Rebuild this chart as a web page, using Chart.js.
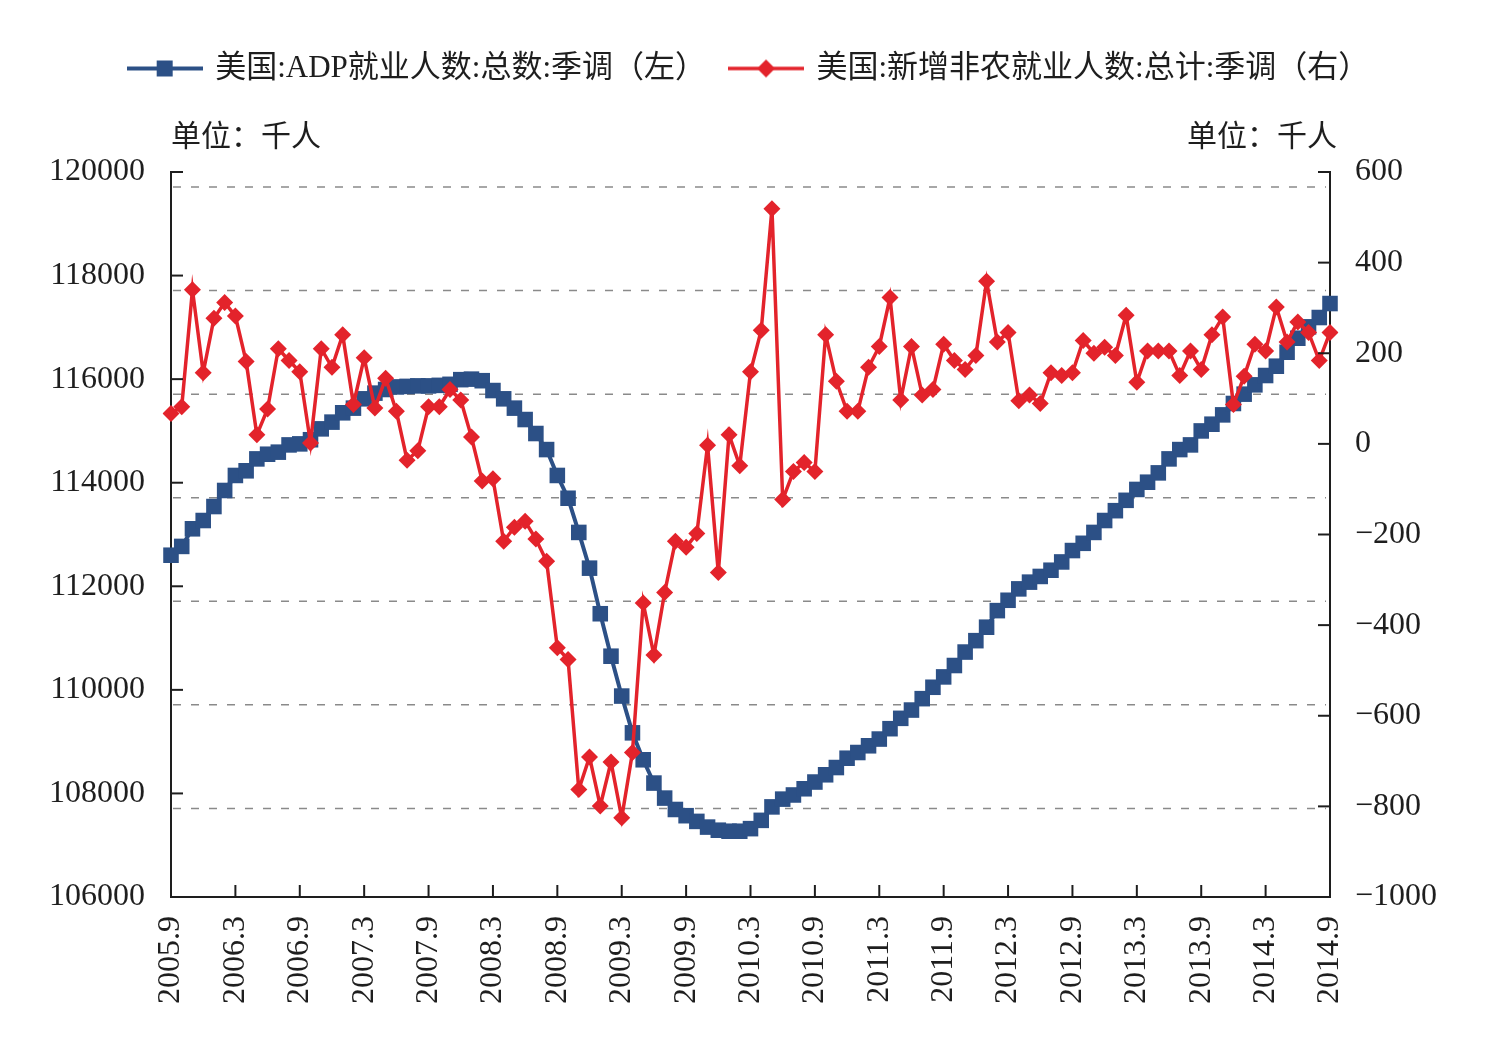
<!DOCTYPE html>
<html>
<head>
<meta charset="utf-8">
<title>美国ADP就业人数与新增非农就业人数</title>
<script src="https://cdn.jsdelivr.net/npm/chart.js@4.4.1/dist/chart.umd.min.js"></script>
<style>
html, body { margin: 0; padding: 0; background: #fff; }
canvas { display: block; }
</style>
</head>
<body>
<canvas id="chart" width="1499" height="1048"></canvas>
<script>
// months 2005.9 .. 2014.9 (109 points)
let months = [];
for (let i = 0; i < 109; i++) {
  let t = 2005 * 12 + 8 + i;
  months.push(Math.floor(t / 12) + "." + ((t % 12) + 1));
}

// 美国:ADP就业人数:总数:季调 (left axis, 千人)
let adp = [
  112600, 112770, 113110, 113270, 113540, 113850, 114140, 114230, 114460, 114550,
  114590, 114730, 114750, 114830, 115040, 115170, 115350, 115440, 115620, 115730,
  115800, 115850, 115860, 115870, 115870, 115880, 115900, 115990, 116000, 115970,
  115780, 115620, 115440, 115220, 114950, 114640, 114140, 113700, 113040, 112350,
  111470, 110650, 109880, 109170, 108650, 108200, 107910, 107690, 107570, 107460,
  107350, 107290, 107270, 107270, 107320, 107480, 107740, 107890, 107970, 108090,
  108220, 108360, 108500, 108680, 108790, 108920, 109050, 109250, 109450, 109610,
  109830, 110050, 110250, 110470, 110730, 110950, 111210, 111530, 111730, 111950,
  112080, 112190, 112310, 112470, 112690, 112830, 113040, 113270, 113460, 113660,
  113870, 114010, 114190, 114460, 114640, 114730, 115000, 115130, 115310, 115530,
  115710, 115890, 116070, 116250, 116520, 116790, 117010, 117190, 117460
];

// 美国:新增非农就业人数:总计:季调 (right axis, 千人)
let nfp = [
  67, 82, 340, 157, 277, 312, 282, 182, 20, 77,
  210, 184, 159, 2, 210, 169, 241, 87, 190, 79,
  145, 72, -36, -15, 82, 82, 120, 97, 15, -82,
  -77, -215, -184, -171, -210, -259, -450, -476, -763, -691,
  -799, -702, -825, -681, -351, -466, -328, -215, -228, -198,
  -3, -284, 20, -48, 159, 251, 519, -123, -61, -41,
  -61, 241, 138, 72, 72, 169, 215, 323, 97, 215,
  108, 120, 220, 184, 164, 195, 359, 225, 246, 95,
  108, 89, 157, 151, 157, 228, 200, 213, 195, 284,
  136, 205, 205, 205, 151, 205, 164, 241, 280, 87,
  149, 220, 205, 302, 225, 269, 246, 184, 246
];

let seriesNames = ["美国:ADP就业人数:总数:季调（左）", "美国:新增非农就业人数:总计:季调（右）"];
let unitText = "单位：千人";

let blue = "#2c5086";
let red = "#e3232b";
let ink = "#1e1e1e";
let numFont = "'Liberation Serif', 'Noto Sans CJK SC', serif";
let cjkFont = "'Liberation Serif', 'Noto Sans CJK SC', sans-serif";

let gridShift = 15; // dashed grid sits a little below the left ticks in the original
let titlePad = { top: 26, bottom: 16 };

// legend icons: line with marker
function makeIcon(color, lw, shape) {
  let c = document.createElement("canvas");
  c.width = 76;
  c.height = 24;
  let g = c.getContext("2d");
  g.strokeStyle = color;
  g.fillStyle = color;
  g.lineWidth = lw;
  g.beginPath();
  g.moveTo(0, 12);
  g.lineTo(76, 12);
  g.stroke();
  g.beginPath();
  if (shape === "rect") {
    g.rect(38 - 8, 12 - 8, 16, 16);
  } else {
    g.moveTo(38, 12 - 9);
    g.lineTo(38 + 9, 12);
    g.lineTo(38, 12 + 9);
    g.lineTo(38 - 9, 12);
    g.closePath();
  }
  g.fill();
  return c;
}
let legendIcons = [makeIcon(blue, 4, "rect"), makeIcon(red, 3.5, "diamond")];

const axisMarks = {
  id: "axisMarks",
  beforeDatasetsDraw(chart) {
    const { ctx, chartArea: a, scales } = chart;
    ctx.save();
    ctx.strokeStyle = "#8a8a8a";
    ctx.lineWidth = 1.5;
    ctx.setLineDash([8, 10]);
    scales.y.ticks.forEach(t => {
      if (t.value === scales.y.min) return;
      let py = scales.y.getPixelForValue(t.value) + gridShift;
      ctx.beginPath();
      ctx.moveTo(a.left + 2, py);
      ctx.lineTo(a.right - 4, py);
      ctx.stroke();
    });
    ctx.restore();
  },
  afterDraw(chart) {
    const { ctx, chartArea: a, scales } = chart;
    ctx.save();
    ctx.strokeStyle = ink;
    ctx.lineWidth = 2;
    // inward tick marks
    scales.y.ticks.forEach(t => {
      let py = scales.y.getPixelForValue(t.value);
      ctx.beginPath();
      ctx.moveTo(a.left, py);
      ctx.lineTo(a.left + 12, py);
      ctx.stroke();
    });
    scales.y1.ticks.forEach(t => {
      let py = scales.y1.getPixelForValue(t.value);
      ctx.beginPath();
      ctx.moveTo(a.right, py);
      ctx.lineTo(a.right - 12, py);
      ctx.stroke();
    });
    months.forEach((m, i) => {
      if (i % 6 !== 0) return;
      let px = scales.x.getPixelForValue(i);
      ctx.beginPath();
      ctx.moveTo(px, a.bottom);
      ctx.lineTo(px, a.bottom - 12);
      ctx.stroke();
    });
    // right unit label
    const tb = chart.titleBlock;
    ctx.fillStyle = ink;
    ctx.font = "30px " + cjkFont;
    ctx.textAlign = "right";
    ctx.textBaseline = "middle";
    ctx.fillText(unitText, a.right + 7, tb.top + titlePad.top + 18);
    ctx.restore();
  }
};

const config = {
  type: "line",
  data: {
    labels: months,
    datasets: [
      {
        label: seriesNames[0],
        data: adp,
        yAxisID: "y",
        borderColor: blue,
        backgroundColor: blue,
        borderWidth: 4,
        pointStyle: "rect",
        pointRadius: 11,
        pointBorderWidth: 0,
        tension: 0,
        order: 2
      },
      {
        label: seriesNames[1],
        data: nfp,
        yAxisID: "y1",
        borderColor: red,
        backgroundColor: red,
        borderWidth: 3.5,
        pointStyle: "rectRot",
        pointRadius: 8.5,
        pointBorderWidth: 0,
        tension: 0,
        order: 1
      }
    ]
  },
  options: {
    responsive: false,
    animation: false,
    devicePixelRatio: 1,
    layout: { padding: { top: 28, left: 0, right: 0, bottom: 0 } },
    plugins: {
      legend: {
        position: "top",
        labels: {
          usePointStyle: true,
          pointStyleWidth: 70,
          padding: 25,
          color: ink,
          font: { size: 31, family: cjkFont },
          sort: (a, b) => a.datasetIndex - b.datasetIndex,
          generateLabels(chart) {
            let items = Chart.defaults.plugins.legend.labels.generateLabels(chart);
            items.forEach(it => { it.pointStyle = legendIcons[it.datasetIndex]; });
            return items;
          }
        }
      },
      title: {
        display: true,
        text: unitText,
        align: "start",
        fullSize: false,
        weight: 500,
        color: ink,
        padding: titlePad,
        font: { size: 30, weight: "normal", family: cjkFont, lineHeight: 1.2 }
      },
      tooltip: { enabled: false }
    },
    scales: {
      x: {
        type: "category",
        offset: false,
        grid: { display: false, drawTicks: false },
        border: { display: true, color: ink, width: 2 },
        ticks: {
          autoSkip: false,
          minRotation: 90,
          maxRotation: 90,
          padding: 19,
          color: ink,
          font: { size: 32, family: numFont },
          callback: function (v, i) { return i % 6 === 0 ? months[i] : null; }
        },
        afterFit(scale) { scale.height = 151; }
      },
      y: {
        position: "left",
        min: 106000,
        max: 120000,
        grid: { display: false, drawTicks: false },
        border: { display: true, color: ink, width: 2 },
        ticks: {
          stepSize: 2000,
          padding: 26,
          color: ink,
          font: { size: 32, family: numFont },
          callback: v => String(v)
        },
        afterFit(scale) { scale.width = 171; }
      },
      y1: {
        position: "right",
        min: -1000,
        max: 600,
        grid: { display: false, drawTicks: false },
        border: { display: true, color: ink, width: 2 },
        ticks: {
          stepSize: 200,
          padding: 25,
          color: ink,
          font: { size: 32, family: numFont },
          callback: v => (v < 0 ? "\u2212" + Math.abs(v) : String(v))
        },
        afterFit(scale) { scale.width = 169; }
      }
    }
  },
  plugins: [axisMarks]
};

window.onload = function () {
  var ctx = document.getElementById("chart").getContext("2d");
  window.chart = new Chart(ctx, config);
};
</script>
</body>
</html>
